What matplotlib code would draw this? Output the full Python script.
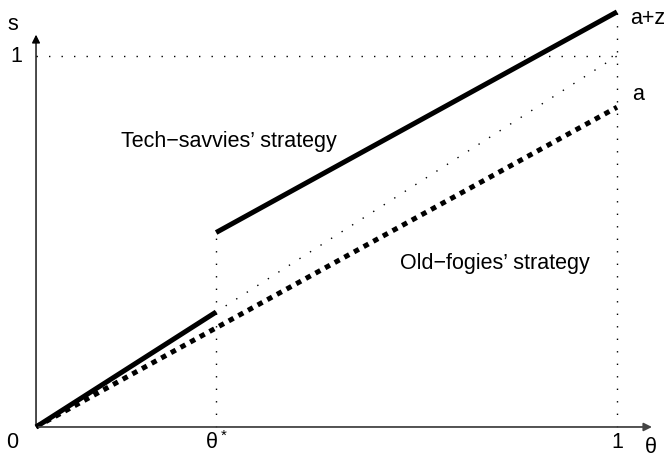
import matplotlib.pyplot as plt

plt.rcParams['font.family'] = ['Liberation Sans', 'DejaVu Sans']

# model parameters
theta_star = 0.31
a = 0.862
z = 0.257

# tech-savvies: follow 45 degree line below theta*, jump to z + a*theta above
ts_low_x = [0, theta_star]
ts_low_y = [0, theta_star]
ts_high_x = [theta_star, 1]
ts_high_y = [z + a * theta_star, z + a]
# old-fogies: a*theta everywhere
of_x = [0, 1]
of_y = [0, a]

fig = plt.figure(figsize=(6.69, 4.58), dpi=100)
ax = fig.add_axes([0, 0, 1, 1])
ax.set_xlim(-0.062, 1.0895)
ax.set_ylim(-0.0836, 1.151)
ax.axis('off')

thin = dict(color='black', lw=1.0, linestyle=(0, (1, 8)))
ax.plot([0, 1], [1, 1], **thin)
ax.plot([0, 1], [0, 1], **thin)
ax.plot([1, 1], [0, z + a], **thin)
ax.plot([theta_star, theta_star], [0, z + a * theta_star], **thin)

ax.plot(of_x, of_y, color='black', lw=3.6, linestyle=(0, (1.1, 1.1)), dash_capstyle='butt')
ax.plot(ts_low_x, ts_low_y, color='black', lw=3.6, solid_capstyle='butt')
ax.plot(ts_high_x, ts_high_y, color='black', lw=3.6, solid_capstyle='butt')

# axes with arrows
ax.annotate('', xy=(1.065, 0), xytext=(0, 0),
            arrowprops=dict(arrowstyle='-|>', color='#444444', lw=1.3, mutation_scale=12))
ax.annotate('', xy=(0, 1.065), xytext=(0, 0),
            arrowprops=dict(arrowstyle='-|>', color='black', lw=1.0, mutation_scale=12))

fs = 15.5
ax.text(-0.040, 1.084, 's', fontsize=fs, ha='center', va='center')
ax.text(-0.034, 1.0, '1', fontsize=fs, ha='center', va='center')
ax.text(-0.041, -0.043, '0', fontsize=fs, ha='center', va='center')
ax.text(theta_star, -0.043, r'$\mathregular{\theta^*}$', fontsize=fs, ha='center', va='center')
ax.text(1.0, -0.043, '1', fontsize=fs, ha='center', va='center')
ax.text(1.057, -0.054, r'$\mathregular{\theta}$', fontsize=fs, ha='center', va='center')
ax.text(1.052, 1.10, 'a+z', fontsize=fs, ha='center', va='center')
ax.text(1.036, 0.895, 'a', fontsize=fs, ha='center', va='center')

ax.text(0.332, 0.77, 'Tech\u2212savvies\u2019 strategy', fontsize=fs, ha='center', va='center')
ax.text(0.79, 0.44, 'Old\u2212fogies\u2019 strategy', fontsize=fs, ha='center', va='center')

fig.savefig('out.png', dpi=100)
